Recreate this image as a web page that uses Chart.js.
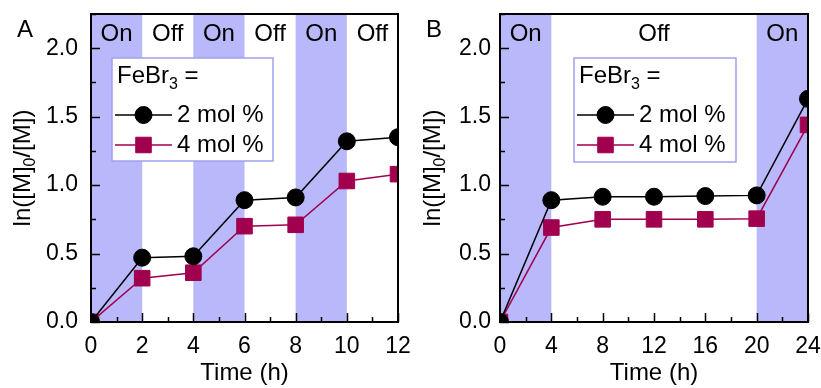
<!DOCTYPE html>
<html>
<head>
<meta charset="utf-8">
<script src="https://cdn.jsdelivr.net/npm/chart.js@4.4.1/dist/chart.umd.min.js"></script>
<style>
  html, body { margin: 0; padding: 0; background: #fff; }
  #wrap { position: relative; width: 821px; height: 388px; }
  .panel { position: absolute; top: 0; height: 388px; }
</style>
</head>
<body>
<div id="wrap">
  <div class="panel" style="left:0;width:410px"><canvas id="chartA" width="410" height="388"></canvas></div>
  <div class="panel" style="left:410px;width:411px"><canvas id="chartB" width="411" height="388"></canvas></div>
</div>
<script>
// panel A: three light on/off cycles
const timeA = [0, 2, 4, 6, 8, 10, 12];
const mol2A = [0, 0.47, 0.48, 0.89, 0.91, 1.32, 1.35];
const mol4A = [0, 0.32, 0.36, 0.70, 0.71, 1.03, 1.08];
const onBandsA = [[0, 2], [4, 6], [8, 10]];
const stateLabelsA = [[1, 'On'], [3, 'Off'], [5, 'On'], [7, 'Off'], [9, 'On'], [11, 'Off']];

// panel B: long dark period
const timeB = [0, 4, 8, 12, 16, 20, 24];
const mol2B = [0, 0.89, 0.915, 0.915, 0.92, 0.925, 1.63];
const mol4B = [0, 0.69, 0.75, 0.75, 0.75, 0.755, 1.44];
const onBandsB = [[0, 4], [20, 24]];
const stateLabelsB = [[2, 'On'], [12, 'Off'], [22, 'On']];

const seriesNames = ['2 mol %', '4 mol %'];
const FONT = '"Liberation Sans", Arial, sans-serif';
const BAND = '#b8b8fa';
const RED = '#a0004e';

Chart.defaults.font.family = FONT;
Chart.defaults.color = '#000';

// no automatic room for overhanging tick labels; chart area set by layout padding
function noPad(s) {
  s.paddingTop = 0; s.paddingBottom = 0; s.paddingLeft = 0; s.paddingRight = 0;
}

const panelPlugin = {
  id: 'panel',
  beforeDatasetsDraw(chart, args, opts) {
    const { ctx, chartArea: a, scales: { x } } = chart;
    ctx.save();
    ctx.fillStyle = BAND;
    opts.bands.forEach(([s, e]) => {
      const x0 = x.getPixelForValue(s), x1 = x.getPixelForValue(e);
      ctx.fillRect(x0, a.top, x1 - x0, a.bottom - a.top);
    });
    ctx.fillStyle = '#000';
    ctx.font = '24px ' + FONT;
    ctx.textAlign = 'center';
    ctx.textBaseline = 'middle';
    opts.states.forEach(([v, t]) => ctx.fillText(t, x.getPixelForValue(v), a.top + 20));
    ctx.restore();
  },
  afterDatasetsDraw(chart, args, opts) {
    const { ctx, chartArea: a, scales: { x, y } } = chart;
    ctx.save();
    ctx.strokeStyle = '#000';
    ctx.lineWidth = 1.5;
    ctx.beginPath();
    // inward ticks on x
    for (let v = x.min; v <= x.max + 1e-9; v += opts.xMinor) {
      const px = Math.round(x.getPixelForValue(v)) + 0.5;
      const major = Math.abs(v / opts.xMajor - Math.round(v / opts.xMajor)) < 1e-6;
      ctx.moveTo(px, a.bottom);
      ctx.lineTo(px, a.bottom - (major ? 9 : 5));
    }
    // inward ticks on y
    for (let v = y.min; v <= y.max + 1e-9; v += 0.25) {
      const py = Math.round(y.getPixelForValue(v)) + 0.5;
      const major = Math.abs(v / 0.5 - Math.round(v / 0.5)) < 1e-6;
      ctx.moveTo(a.left, py);
      ctx.lineTo(a.left + (major ? 9 : 5), py);
    }
    ctx.stroke();
    ctx.lineWidth = 2;
    ctx.strokeRect(a.left, a.top, a.right - a.left, a.bottom - a.top);
    ctx.restore();
  },
  afterDraw(chart, args, opts) {
    const { ctx, chartArea: a } = chart;
    ctx.save();
    // y axis title with subscript
    ctx.translate(opts.yTitleX, (a.top + a.bottom) / 2);
    ctx.rotate(-Math.PI / 2);
    ctx.fillStyle = '#000';
    ctx.textBaseline = 'alphabetic';
    const big = '24px ' + FONT, small = '16px ' + FONT;
    ctx.font = big;
    const p1 = 'ln([M]', p3 = '/[M])';
    const w1 = ctx.measureText(p1).width, w3 = ctx.measureText(p3).width;
    ctx.font = small;
    const w2 = ctx.measureText('0').width;
    let cx = -(w1 + w2 + w3) / 2;
    ctx.font = big;
    ctx.fillText(p1, cx, 8); cx += w1;
    ctx.font = small;
    ctx.fillText('0', cx, 13); cx += w2;
    ctx.font = big;
    ctx.fillText(p3, cx, 8);
    ctx.restore();

    // panel letter
    ctx.save();
    ctx.font = '24px ' + FONT;
    ctx.fillStyle = '#000';
    ctx.textBaseline = 'alphabetic';
    ctx.fillText(opts.letter, opts.letterX, 37);

    // legend box
    const L = opts.legend;
    ctx.fillStyle = '#fff';
    ctx.fillRect(L.x, L.y, L.w, L.h);
    ctx.strokeStyle = '#a0a0f0';
    ctx.lineWidth = 1.5;
    ctx.strokeRect(L.x, L.y, L.w, L.h);
    ctx.fillStyle = '#000';
    ctx.font = '24px ' + FONT;
    ctx.fillText('FeBr', L.x + 5, L.y + 25);
    let tx = L.x + 5 + ctx.measureText('FeBr').width;
    ctx.font = '16px ' + FONT;
    ctx.fillText('3', tx, L.y + 31);
    tx += ctx.measureText('3').width;
    ctx.font = '24px ' + FONT;
    ctx.fillText(' =', tx, L.y + 25);
    chart.data.datasets.forEach((ds, i) => {
      const ry = L.y + 57 + i * 30;
      ctx.strokeStyle = ds.borderColor;
      ctx.lineWidth = 1.5;
      ctx.beginPath();
      ctx.moveTo(L.x + 3, ry);
      ctx.lineTo(L.x + 60, ry);
      ctx.stroke();
      ctx.fillStyle = ds.pointBackgroundColor;
      ctx.strokeStyle = ds.pointBorderColor;
      ctx.lineWidth = 1;
      Chart.helpers.drawPoint(ctx, { pointStyle: ds.pointStyle, radius: ds.pointRadius, borderWidth: 1 }, L.x + 31.5, ry);
      ctx.fillStyle = '#000';
      ctx.textBaseline = 'middle';
      ctx.font = '24px ' + FONT;
      ctx.fillText(seriesNames[i], L.x + 65, ry);
      ctx.textBaseline = 'alphabetic';
    });
    ctx.restore();
  }
};

function makeChart(id, time, s2, s4, xMax, xStep, cfg) {
  return new Chart(document.getElementById(id), {
    type: 'line',
    data: {
      datasets: [
        {
          label: seriesNames[0],
          data: time.map((t, i) => ({ x: t, y: s2[i] })),
          borderColor: '#000', borderWidth: 1.5,
          pointStyle: 'circle', pointRadius: 8.5,
          pointBackgroundColor: '#000', pointBorderColor: '#000', pointBorderWidth: 1,
          clip: 0
        },
        {
          label: seriesNames[1],
          data: time.map((t, i) => ({ x: t, y: s4[i] })),
          borderColor: RED, borderWidth: 1.5,
          pointStyle: 'rect', pointRadius: 11,
          pointBackgroundColor: RED, pointBorderColor: RED, pointBorderWidth: 1,
          clip: 0
        }
      ]
    },
    options: {
      responsive: false,
      animation: false,
      devicePixelRatio: 1,
      layout: { padding: { top: 14, right: cfg.padRight, left: 0, bottom: 0 } },
      plugins: {
        legend: { display: false },
        tooltip: { enabled: false },
        panel: cfg.panel
      },
      scales: {
        x: {
          type: 'linear', min: 0, max: xMax,
          grid: { display: false, drawTicks: false },
          border: { display: false },
          ticks: { stepSize: xStep, padding: 11, font: { size: 23 }, color: '#000' },
          title: { display: true, text: 'Time (h)', font: { size: 24 }, color: '#000', padding: { top: 0, bottom: 0 } },
          afterFit: s => { s.height = 66; noPad(s); }
        },
        y: {
          type: 'linear', min: 0, max: 2.25,
          grid: { display: false, drawTicks: false },
          border: { display: false },
          ticks: { stepSize: 0.5, padding: cfg.yPad, font: { size: 23 }, color: '#000',
            callback: v => (Math.abs(v * 2 - Math.round(v * 2)) < 1e-6 ? v.toFixed(1) : '') },
          afterFit: s => { s.width = cfg.yWidth; noPad(s); }
        }
      }
    },
    plugins: [panelPlugin]
  });
}

makeChart('chartA', timeA, mol2A, mol4A, 12, 2, {
  padRight: 12, yWidth: 91, yPad: 13,
  panel: {
    bands: onBandsA, states: stateLabelsA, xMinor: 1, xMajor: 2,
    yTitleX: 22, letter: 'A', letterX: 17,
    legend: { x: 112, y: 58, w: 161, h: 103 }
  }
});

makeChart('chartB', timeB, mol2B, mol4B, 24, 4, {
  padRight: 13, yWidth: 90, yPad: 9,
  panel: {
    bands: onBandsB, states: stateLabelsB, xMinor: 2, xMajor: 4,
    yTitleX: 22, letter: 'B', letterX: 16,
    legend: { x: 164, y: 58, w: 162, h: 104 }
  }
});
</script>
</body>
</html>
